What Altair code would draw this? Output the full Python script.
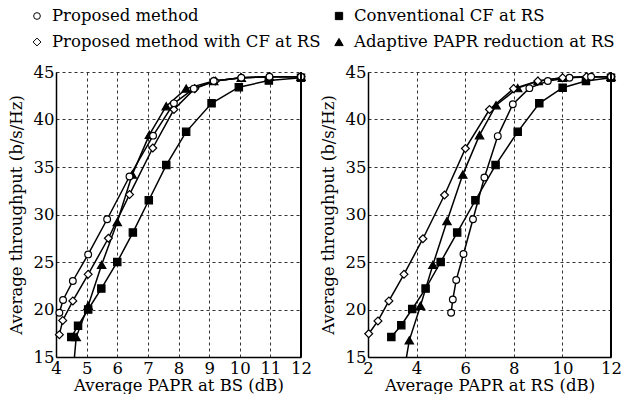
import altair as alt
import pandas as pd

FONT = "DejaVu Serif"
FS = 16.5

SERIES = ["Proposed method", "Conventional CF at RS",
          "Proposed method with CF at RS", "Adaptive PAPR reduction at RS"]
SHAPES = ["circle", "square", "diamond", "triangle-up"]
FILLS = ["white", "black", "white", "black"]
SIZES = [64, 80, 50, 65]

# ---- Left panel: Average PAPR at BS (dB) ----
bs_prop_x = [4.11, 4.23, 4.55, 5.05, 5.67, 6.40, 7.17, 7.85, 8.50, 9.15, 10.05, 10.97, 12.0]
bs_prop_y = [19.65, 21.0, 23.0, 25.8, 29.5, 34.0, 38.3, 41.7, 43.25, 44.05, 44.4, 44.5, 44.5]
bs_cf_x = [4.50, 4.72, 5.05, 5.48, 6.00, 6.51, 7.03, 7.60, 8.25, 9.08, 9.97, 10.95, 12.0]
bs_cf_y = [17.1, 18.3, 20.0, 22.2, 25.0, 28.1, 31.5, 35.2, 38.7, 41.7, 43.4, 44.1, 44.4]
bs_propcf_x = [4.11, 4.22, 4.55, 5.05, 5.71, 6.40, 7.16, 7.85, 8.53, 9.20, 10.05, 10.97, 12.0]
bs_propcf_y = [17.35, 18.85, 20.9, 23.7, 27.5, 32.1, 37.0, 41.05, 43.25, 44.05, 44.4, 44.5, 44.5]
bs_adapt_x = [4.52, 4.66, 5.05, 5.49, 6.00, 6.49, 7.05, 7.60, 8.25, 9.15, 10.05, 10.97, 12.0]
bs_adapt_y = [12.0, 17.1, 20.4, 24.7, 29.2, 34.2, 38.4, 41.4, 43.25, 44.05, 44.4, 44.5, 44.5]

# ---- Right panel: Average PAPR at RS (dB) ----
rs_prop_x = [5.42, 5.49, 5.63, 5.93, 6.32, 6.79, 7.34, 7.96, 8.64, 9.40, 10.29, 11.18, 12.0]
rs_prop_y = [19.65, 21.05, 23.1, 25.85, 29.5, 33.9, 38.25, 41.6, 43.3, 44.05, 44.4, 44.5, 44.5]
rs_cf_x = [2.96, 3.37, 3.82, 4.37, 4.99, 5.67, 6.42, 7.25, 8.16, 9.05, 10.01, 10.97, 12.0]
rs_cf_y = [17.1, 18.35, 20.05, 22.2, 25.0, 28.1, 31.5, 35.2, 38.7, 41.7, 43.35, 44.05, 44.4]
rs_propcf_x = [2.03, 2.41, 2.86, 3.48, 4.26, 5.15, 6.01, 7.00, 7.99, 8.99, 10.01, 10.99, 12.0]
rs_propcf_y = [17.45, 18.8, 20.9, 23.7, 27.45, 32.05, 36.95, 41.05, 43.25, 44.05, 44.4, 44.5, 44.5]
rs_adapt_x = [3.47, 3.70, 4.16, 4.67, 5.25, 5.90, 6.59, 7.27, 8.16, 9.00, 10.00, 11.00, 12.0]
rs_adapt_y = [13.3, 16.75, 20.4, 24.7, 29.3, 34.2, 38.35, 41.5, 43.3, 44.05, 44.4, 44.5, 44.5]

bs_ticks = [4, 5, 6, 7, 8, 9, 10, 11, 12]
rs_ticks = [2, 4, 6, 8, 10, 12]
y_ticks = [15, 20, 25, 30, 35, 40, 45]


def frame(pairs):
    rows = []
    for name, xs, ys in pairs:
        for i, (xv, yv) in enumerate(zip(xs, ys)):
            rows.append({"series": name, "x": xv, "y": yv, "idx": i})
    return pd.DataFrame(rows)


bs_df = frame([
    (SERIES[1], bs_cf_x, bs_cf_y),
    (SERIES[3], bs_adapt_x, bs_adapt_y),
    (SERIES[2], bs_propcf_x, bs_propcf_y),
    (SERIES[0], bs_prop_x, bs_prop_y),
])
rs_df = frame([
    (SERIES[1], rs_cf_x, rs_cf_y),
    (SERIES[3], rs_adapt_x, rs_adapt_y),
    (SERIES[2], rs_propcf_x, rs_propcf_y),
    (SERIES[0], rs_prop_x, rs_prop_y),
])

W_L, W_R, H = 245, 243, 285

shape_enc = alt.Shape("series:N", scale=alt.Scale(domain=SERIES, range=SHAPES), legend=None)
fill_enc = alt.Fill("series:N", scale=alt.Scale(domain=SERIES, range=FILLS), legend=None)
size_enc = alt.Size("series:N", scale=alt.Scale(domain=SERIES, range=SIZES), legend=None)


def axis_common(values, title, **kw):
    return alt.Axis(values=values, title=title, grid=True, gridDash=[3, 3],
                    gridColor="#333", gridWidth=1, ticks=False,
                    domainColor="black", domainWidth=1.5,
                    labelFont=FONT, labelFontSize=FS, labelColor="black",
                    titleFont=FONT, titleFontSize=FS, titleFontWeight="normal",
                    titleColor="black", labelFlush=False, labelOverlap=False, **kw)


def panel(df, xdom, xticks, xtitle, width):
    base = alt.Chart(df)
    x = alt.X("x:Q", scale=alt.Scale(domain=xdom, nice=False),
              axis=axis_common(xticks, xtitle, labelPadding=3, titlePadding=1))
    y = alt.Y("y:Q", scale=alt.Scale(domain=[15, 45], nice=False),
              axis=axis_common(y_ticks, "Average throughput (b/s/Hz)",
                               labelPadding=2, titlePadding=9))
    lines = base.mark_line(color="black", strokeWidth=1.5, clip=True).encode(
        x=x, y=y, detail="series:N", order="idx:Q")
    pts = base.transform_filter(alt.datum.y >= 15).mark_point(
        filled=True, stroke="black", strokeWidth=1.2, opacity=1).encode(
        x=x, y=y, shape=shape_enc, fill=fill_enc, size=size_enc)
    border = alt.Chart(df).mark_rule(color="black", strokeWidth=1.5).encode(
        x=alt.value(width), y=alt.value(0), y2=alt.value(H))
    return alt.layer(lines, pts, border).properties(width=width, height=H)


left = panel(bs_df, [4, 12], bs_ticks, "Average PAPR at BS (dB)", W_L)
right = panel(rs_df, [2, 12], rs_ticks, "Average PAPR at RS (dB)", W_R)

# ---- Legend (two columns, two rows) ----
leg_col = [-19, 283, -19, 283]
leg_row = [7, 7, 33, 33]
leg_df = pd.DataFrame({"series": SERIES, "lx": leg_col, "ly": leg_row})
leg_sizes = [45, 70, 45, 55]
lx = alt.X("lx:Q", scale=alt.Scale(domain=[0, W_L], nice=False), axis=None)
ly = alt.Y("ly:Q", scale=alt.Scale(domain=[0, 40], reverse=True, nice=False), axis=None)
leg_base = alt.Chart(leg_df)
leg_pts = leg_base.mark_point(filled=True, stroke="black", strokeWidth=1, opacity=1).encode(
    x=lx, y=ly, shape=shape_enc, fill=fill_enc,
    size=alt.Size("series:N", scale=alt.Scale(domain=SERIES, range=leg_sizes), legend=None))
leg_txt = leg_base.transform_calculate(tx="datum.lx + 15").mark_text(
    align="left", baseline="middle", font=FONT, fontSize=FS, color="black").encode(
    x=alt.X("tx:Q", scale=alt.Scale(domain=[0, W_L], nice=False), axis=None),
    y=ly, text="series:N")
legend = alt.layer(leg_pts, leg_txt).properties(width=W_L, height=40)

row = alt.hconcat(left, right, spacing=67, bounds="flush")
chart = alt.vconcat(legend, row, spacing=23, bounds="flush").properties(
    padding=0
).configure_view(stroke=None)

chart.save("out.html", embed_options={"renderer": "svg", "actions": False})
